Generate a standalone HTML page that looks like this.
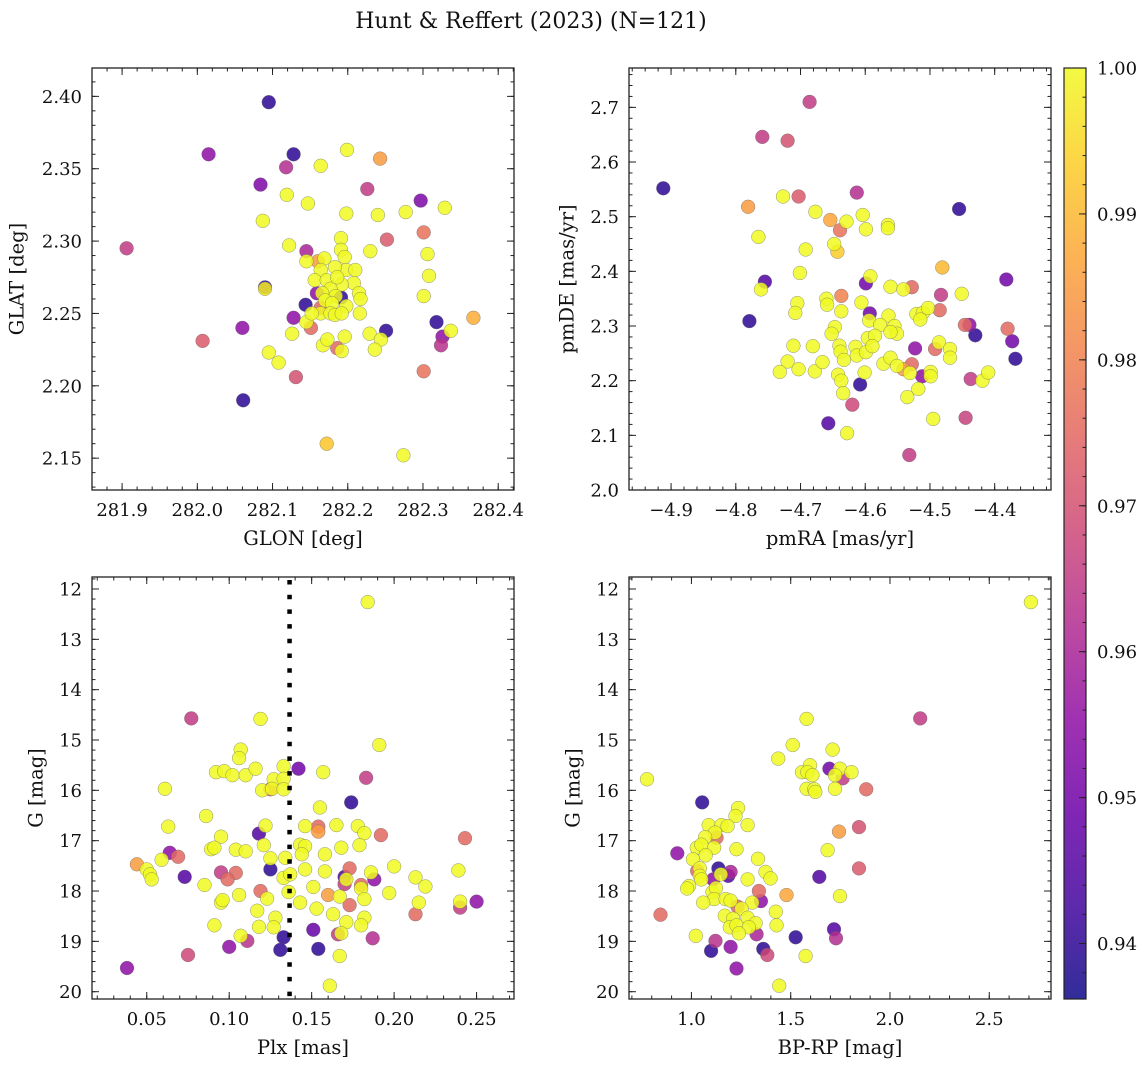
<!DOCTYPE html>
<html><head><meta charset="utf-8">
<style>
html,body{margin:0;padding:0;background:#fff;}
svg{display:block;font-family:"DejaVu Serif","Liberation Serif",serif;}
</style></head>
<body>
<svg id="fig" width="1148" height="1067" viewBox="0 0 1148 1067" xmlns="http://www.w3.org/2000/svg">
<text x="531" y="28" font-size="22" text-anchor="middle" fill="#111">Hunt &amp; Reffert (2023) (N=121)</text>
</svg>
<script>
// ---------- Panel 1: GLON / GLAT ----------
const glon1=[282.095,282.015,282.128,282.118,282.084,282.199,282.164,282.243,282.226,282.119,282.147,282.087,282.198,282.240,282.277,282.297,282.329,282.301,282.252,281.906,282.122,282.191,282.230,282.145,282.306,282.308,282.301,282.090,282.090,282.144,282.128,282.060,282.007,282.251,282.318,282.326,282.324,282.337,282.367,282.126,282.095,282.108,282.131,282.061,282.301,282.172,282.274,
282.229,282.244,282.236,282.167,282.173,282.196,282.186,282.192,282.151,282.145,
282.145,282.160,282.169,282.191,282.196,282.198,282.210,282.208,282.215,282.217,282.216,
282.164,282.156,282.172,282.183,282.192,282.177,282.166,282.159,282.184,282.191,
282.170,282.179,282.198,282.164,282.164,282.152,282.177,282.183,282.192,282.186];
const glat1=[2.396,2.360,2.360,2.351,2.339,2.363,2.352,2.357,2.336,2.332,2.326,2.314,2.319,2.318,2.320,2.328,2.323,2.306,2.301,2.295,2.297,2.302,2.293,2.293,2.291,2.276,2.262,2.268,2.267,2.256,2.247,2.240,2.231,2.238,2.244,2.234,2.228,2.238,2.247,2.236,2.223,2.216,2.206,2.190,2.210,2.160,2.152,
2.236,2.232,2.225,2.228,2.232,2.234,2.226,2.224,2.240,2.244,
2.286,2.286,2.288,2.294,2.289,2.280,2.280,2.271,2.264,2.260,2.250,
2.280,2.273,2.273,2.282,2.270,2.267,2.264,2.264,2.262,2.261,
2.259,2.257,2.255,2.254,2.250,2.250,2.250,2.249,2.250,2.275];
const prob1=[0.94,0.955,0.94,0.962,0.952,1,1,0.985,0.965,1,1,1,1,1,1,0.952,1,0.977,0.972,0.965,1,1,1,0.96,1,1,1,0.94,0.998,0.94,0.955,0.955,0.972,0.94,0.94,0.955,0.963,1,0.988,1,1,1,0.97,0.94,0.977,0.992,1,
1,1,1,1,1,1,0.975,1,0.975,1,
1,0.985,1,1,1,1,1,1,1,1,1,
1,1,1,1,1,1,1,0.955,1,0.94,
1,1,1,0.975,1,1,1,1,1,1];
const xticks1=[281.9,282.0,282.1,282.2,282.3,282.4];
const yticks1=[2.15,2.20,2.25,2.30,2.35,2.40];

// ---------- Panel 2: pmRA / pmDE ----------
const pmra2=[-4.686,-4.759,-4.720,-4.912,-4.727,-4.703,-4.613,-4.781,-4.455,-4.765,
-4.677,-4.654,-4.629,-4.639,-4.604,-4.599,-4.565,-4.565,-4.648,-4.643,
-4.692,-4.701,-4.755,-4.761,-4.779,-4.481,-4.382,-4.599,-4.592,-4.561,
-4.541,-4.528,-4.483,-4.451,-4.637,-4.660,-4.659,-4.705,-4.708,-4.606,
-4.637,-4.593,-4.594,-4.521,-4.511,-4.503,-4.515,-4.485,-4.564,-4.577,
-4.555,-4.551,-4.561,-4.446,-4.439,-4.430,-4.380,-4.373,-4.368,-4.647,
-4.652,-4.711,-4.681,-4.720,-4.732,-4.703,-4.678,-4.666,-4.640,-4.638,
-4.633,-4.642,-4.637,-4.634,-4.615,-4.613,-4.599,-4.596,-4.585,-4.589,
-4.601,-4.608,-4.620,-4.657,-4.628,-4.572,-4.561,-4.551,-4.528,-4.541,
-4.531,-4.512,-4.499,-4.499,-4.523,-4.492,-4.486,-4.469,-4.469,-4.437,
-4.419,-4.410,-4.518,-4.535,-4.495,-4.445,-4.532];
const pmde2=[2.710,2.646,2.639,2.552,2.537,2.537,2.544,2.518,2.514,2.463,
2.509,2.494,2.491,2.475,2.503,2.477,2.485,2.479,2.450,2.436,
2.440,2.397,2.381,2.367,2.309,2.407,2.385,2.378,2.391,2.372,
2.367,2.371,2.357,2.359,2.355,2.350,2.339,2.342,2.324,2.343,
2.327,2.323,2.310,2.322,2.324,2.333,2.312,2.329,2.319,2.302,
2.300,2.286,2.289,2.302,2.302,2.283,2.295,2.272,2.240,2.298,
2.286,2.264,2.263,2.235,2.216,2.221,2.217,2.234,2.264,2.253,
2.238,2.211,2.200,2.177,2.262,2.246,2.252,2.278,2.282,2.263,
2.215,2.193,2.156,2.122,2.104,2.231,2.242,2.227,2.230,2.221,
2.214,2.208,2.216,2.208,2.259,2.258,2.270,2.258,2.242,2.203,
2.200,2.215,2.185,2.170,2.130,2.132,2.064];
const prob2=[0.965,0.965,0.970,0.94,1,0.972,0.962,0.985,0.94,1,
1,0.987,1,0.977,1,1,1,1,1,0.993,
1,1,0.945,1,0.94,0.99,0.95,0.95,1,1,
1,0.975,0.965,1,0.98,1,1,1,1,1,
1,0.95,1,1,1,1,1,0.975,1,1,
1,1,1,0.975,0.955,0.94,0.975,0.95,0.94,1,
1,1,1,1,1,1,1,1,1,1,
1,1,1,1,1,1,1,1,1,1,
1,0.94,0.968,0.945,1,1,1,1,0.975,0.985,
1,0.955,1,1,0.955,0.975,1,1,1,0.965,
1,1,1,1,1,0.967,0.965];
const xticks2=[-4.9,-4.8,-4.7,-4.6,-4.5,-4.4];
const yticks2=[2.0,2.1,2.2,2.3,2.4,2.5,2.6,2.7];

// ---------- Panel 3: Plx / G ----------
const plx3=[0.184,0.077,0.119,0.191,0.107,0.106,0.092,0.097,0.102,0.110,
0.116,0.133,0.127,0.133,0.142,0.157,0.183,0.120,0.125,0.126,
0.133,0.061,0.174,0.155,0.086,0.063,0.122,0.118,0.146,0.154,
0.154,0.165,0.178,0.182,0.192,0.243,0.095,0.089,0.091,0.104,
0.110,0.121,0.143,0.146,0.144,0.158,0.168,0.179,0.064,0.069,
0.059,0.044,0.050,0.052,0.053,0.073,0.095,0.104,0.099,0.125,
0.134,0.125,0.133,0.137,0.146,0.158,0.170,0.173,0.171,0.170,
0.180,0.180,0.188,0.186,0.200,0.213,0.219,0.239,0.240,0.240,
0.250,0.215,0.213,0.085,0.136,0.119,0.106,0.095,0.096,0.123,
0.143,0.151,0.160,0.167,0.173,0.182,0.197,0.153,0.117,0.128,
0.127,0.118,0.091,0.163,0.171,0.182,0.180,0.151,0.166,0.168,
0.107,0.111,0.133,0.187,0.100,0.131,0.154,0.167,0.075,0.038,
0.161];
const gmag3=[12.26,14.57,14.58,15.10,15.19,15.36,15.64,15.62,15.70,15.70,
15.57,15.52,15.78,15.77,15.57,15.64,15.75,16.00,15.98,15.97,
15.98,15.97,16.24,16.34,16.51,16.72,16.70,16.86,16.71,16.72,
16.82,16.69,16.71,16.85,16.89,16.95,16.92,17.17,17.14,17.18,
17.21,17.09,17.08,17.11,17.27,17.27,17.14,17.09,17.24,17.32,
17.38,17.47,17.57,17.67,17.77,17.72,17.63,17.64,17.77,17.35,
17.34,17.57,17.74,17.67,17.57,17.61,17.72,17.55,17.77,17.86,
17.88,17.95,17.77,17.63,17.51,17.73,17.91,17.59,18.21,18.33,
18.21,18.23,18.46,17.88,18.02,18.00,18.08,18.23,18.18,18.15,
18.23,17.92,18.08,18.11,18.28,18.16,18.04,18.35,18.39,18.53,
18.72,18.71,18.68,18.46,18.62,18.53,18.68,18.77,18.86,18.84,
18.89,18.99,18.92,18.94,19.11,19.17,19.15,19.29,19.27,19.53,
19.88];
const prob3=[1,0.965,1,1,1,1,1,1,1,1,
1,1,1,1,0.95,1,0.965,1,0.975,1,
1,1,0.94,1,1,1,1,0.945,1,0.975,
0.985,1,1,1,0.975,0.975,1,1,1,1,
1,1,1,1,1,1,1,1,0.955,0.975,
1,0.985,1,1,1,0.945,0.965,0.975,0.975,1,
1,0.94,1,1,1,1,0.945,0.975,1,0.965,
0.975,1,0.955,1,1,1,1,1,1,0.965,
0.955,1,0.975,1,1,0.975,1,1,1,1,
1,1,0.985,1,0.975,1,1,1,1,1,
1,1,1,1,1,1,1,0.948,0.965,1,
1,0.963,0.94,0.962,0.955,0.94,0.94,1,0.968,0.955,
1];
const plxRef=[0.1366];
const xticks3=[0.05,0.10,0.15,0.20,0.25];
const yticksG=[12,13,14,15,16,17,18,19,20];

// ---------- Panel 4: BP-RP / G ----------
const bprp4=[2.710,2.152,1.580,1.510,1.711,1.437,0.776,1.557,1.597,1.584,
1.609,1.695,1.748,1.762,1.723,1.806,1.580,1.619,1.624,1.723,
1.880,1.054,1.235,1.222,1.283,1.087,1.151,1.182,1.119,1.126,
1.069,1.844,1.743,0.929,1.027,1.050,1.114,1.072,1.227,1.335,
1.686,1.008,1.029,1.042,1.042,1.050,1.136,1.185,1.197,1.148,
1.109,1.373,1.398,1.283,1.644,1.844,0.988,0.978,1.106,1.123,
1.114,1.059,1.340,1.479,1.748,1.172,1.197,1.350,1.306,1.232,
1.252,1.425,0.844,1.168,1.210,1.283,1.323,1.429,1.193,1.227,
1.289,1.239,1.022,1.328,1.525,1.718,1.728,1.121,1.099,1.197,
1.362,1.382,1.575,1.227,1.442];
const gmag4=[12.26,14.57,14.58,15.10,15.19,15.37,15.78,15.64,15.50,15.64,
15.70,15.57,15.57,15.76,15.70,15.64,15.97,15.98,16.03,15.97,
15.98,16.24,16.35,16.51,16.69,16.69,16.69,16.71,16.84,16.94,
16.93,16.73,16.82,17.25,17.14,17.08,17.14,17.29,17.17,17.36,
17.19,17.37,17.60,17.55,17.70,17.77,17.55,17.70,17.62,17.67,
17.77,17.62,17.75,17.77,17.72,17.55,17.90,17.95,18.02,17.94,
18.16,18.23,18.00,18.08,18.10,18.16,18.19,18.20,18.23,18.31,
18.35,18.41,18.47,18.49,18.55,18.53,18.64,18.68,18.72,18.68,
18.72,18.84,18.89,18.86,18.92,18.76,18.94,18.99,19.19,19.11,
19.15,19.27,19.29,19.54,19.88];
const prob4=[1,0.965,1,1,1,1,1,1,1,1,
1,0.95,1,0.965,1,1,1,1,1,1,
0.975,0.94,1,1,1,1,1,1,1,0.975,
1,0.97,0.985,0.955,1,1,1,1,1,1,
1,1,0.975,1,1,1,0.94,0.945,0.96,1,
0.955,1,1,1,0.945,0.972,1,1,1,1,
1,1,0.975,0.987,1,1,1,0.955,1,0.975,
1,1,0.975,1,1,1,1,1,1,1,
1,1,1,0.96,0.94,0.945,0.962,0.963,0.94,0.955,
0.94,0.968,1,0.955,1];
const xticks4=[1.0,1.5,2.0,2.5];
const cbarTicks=[0.94,0.95,0.96,0.97,0.98,0.99,1.00];

// ---------- drawing ----------
const NS='http://www.w3.org/2000/svg';
const svg=document.getElementById('fig');
const PMIN=0.9362,PMAX=1.0;
const TFS=18,LFS=19.5;
const plasma=[[13,8,135],[65,4,157],[106,0,168],[143,13,164],[177,42,144],[204,71,120],[225,100,98],[242,132,75],[252,166,54],[252,206,37],[240,249,33]];
function cmap(p){let t=(p-PMIN)/(PMAX-PMIN);t=Math.max(0,Math.min(1,t));const f=t*10,i=Math.min(9,Math.floor(f)),u=f-i;const a=plasma[i],b=plasma[i+1];
return 'rgb('+[0,1,2].map(k=>Math.round(a[k]+(b[k]-a[k])*u)).join(',')+')';}
function mk(tag,attrs,parent){const e=document.createElementNS(NS,tag);for(const k in attrs)e.setAttribute(k,attrs[k]);(parent||svg).appendChild(e);return e;}
function fmt(v,d){return v.toFixed(d).replace('-','\u2212');}

function panel(cfg){
  const g=mk('g',{});
  
  
  const X=v=>cfg.x0+(v-cfg.xd[0])/(cfg.xd[1]-cfg.xd[0])*(cfg.x1-cfg.x0);
  const Y=cfg.yinv?(v=>cfg.y0+(v-cfg.yd[0])/(cfg.yd[1]-cfg.yd[0])*(cfg.y1-cfg.y0)):(v=>cfg.y1-(v-cfg.yd[0])/(cfg.yd[1]-cfg.yd[0])*(cfg.y1-cfg.y0));
  const idx=cfg.xs.map((_,i)=>i).sort((a,b)=>cfg.ps[a]-cfg.ps[b]);
  const pg=mk('g',{},g);
  
  
  idx.forEach(i=>{
    const c=mk('circle',{cx:X(cfg.xs[i]).toFixed(1),cy:Y(cfg.ys[i]).toFixed(1),r:6.9,fill:cmap(cfg.ps[i]),'fill-opacity':0.85,stroke:'#666','stroke-width':0.5,'stroke-opacity':0.7},pg);
    
    
  });
  if(cfg.vline){cfg.vline.forEach(v=>{const l=mk('line',{x1:X(v),x2:X(v),y1:cfg.y0+3,y2:cfg.y1,stroke:'#000','stroke-width':4.5,'stroke-dasharray':'4.5 10.2'},g);
    
    });}
  const tk=mk('g',{stroke:'#222','stroke-width':1},g);
  function minors(d,step,f){const s=Math.ceil(d[0]/step-1e-6),e=Math.floor(d[1]/step+1e-6);for(let k=s;k<=e;k++)f(k*step);}
  minors(cfg.xd,cfg.xminor,v=>{const x=X(v);mk('line',{x1:x,x2:x,y1:cfg.y1,y2:cfg.y1-3.5},tk);mk('line',{x1:x,x2:x,y1:cfg.y0,y2:cfg.y0+3.5},tk);});
  minors(cfg.yd,cfg.yminor,v=>{const y=Y(v);mk('line',{x1:cfg.x0,x2:cfg.x0+3.5,y1:y,y2:y},tk);mk('line',{x1:cfg.x1,x2:cfg.x1-3.5,y1:y,y2:y},tk);});
  cfg.xt.forEach(v=>{const x=X(v);mk('line',{x1:x,x2:x,y1:cfg.y1,y2:cfg.y1-7},tk);mk('line',{x1:x,x2:x,y1:cfg.y0,y2:cfg.y0+7},tk);
    const t=mk('text',{x:x,y:cfg.y1+26,'font-size':TFS,'text-anchor':'middle',fill:'#111'},g);t.textContent=fmt(v,cfg.xdec);
    });
  cfg.yt.forEach(v=>{const y=Y(v);mk('line',{x1:cfg.x0,x2:cfg.x0+7,y1:y,y2:y},tk);mk('line',{x1:cfg.x1,x2:cfg.x1-7,y1:y,y2:y},tk);
    const t=mk('text',{x:cfg.x0-10,y:y+6.5,'font-size':TFS,'text-anchor':'end',fill:'#111'},g);t.textContent=fmt(v,cfg.ydec);
    });
  const fr=mk('rect',{x:cfg.x0,y:cfg.y0,width:cfg.x1-cfg.x0,height:cfg.y1-cfg.y0,fill:'none',stroke:'#222','stroke-width':1.3},g);
  
  const xl=mk('text',{x:(cfg.x0+cfg.x1)/2,y:cfg.y1+55,'font-size':LFS,'text-anchor':'middle',fill:'#111'},g);xl.textContent=cfg.xlabel;
  
  const yc=(cfg.y0+cfg.y1)/2;
  const yl=mk('text',{x:cfg.ylx,y:yc,'font-size':LFS,'text-anchor':'middle',fill:'#111',transform:'rotate(-90 '+cfg.ylx+' '+yc+')',dy:6.5},g);yl.textContent=cfg.ylabel;
  
}

panel({name:'glon-glat-panel',x0:92,x1:514,y0:68,y1:490,xd:[281.86,282.421],yd:[2.128,2.4196],xs:glon1,ys:glat1,ps:prob1,xt:xticks1,yt:yticks1,xdec:1,ydec:2,xminor:0.02,yminor:0.01,xlabel:'GLON [deg]',ylabel:'GLAT [deg]',ylx:17});
panel({name:'proper-motion-panel',x0:629,x1:1051,y0:68,y1:490,xd:[-4.965,-4.313],yd:[2.0,2.772],xs:pmra2,ys:pmde2,ps:prob2,xt:xticks2,yt:yticks2,xdec:1,ydec:1,xminor:0.02,yminor:0.02,xlabel:'pmRA [mas/yr]',ylabel:'pmDE [mas/yr]',ylx:567});
panel({name:'parallax-magnitude-panel',x0:92,x1:514,y0:577,y1:999,xd:[0.0168,0.2727],yd:[11.762,20.145],yinv:true,xs:plx3,ys:gmag3,ps:prob3,xt:xticks3,yt:yticksG,xdec:2,ydec:0,xminor:0.01,yminor:0.2,xlabel:'Plx [mas]',ylabel:'G [mag]',ylx:36,vline:plxRef});
panel({name:'color-magnitude-panel',x0:629,x1:1051,y0:577,y1:999,xd:[0.6855,2.811],yd:[11.762,20.145],yinv:true,xs:bprp4,ys:gmag4,ps:prob4,xt:xticks4,yt:yticksG,xdec:1,ydec:0,xminor:0.1,yminor:0.2,xlabel:'BP-RP [mag]',ylabel:'G [mag]',ylx:573});

// colorbar
(function(){
  const cx0=1064,cx1=1086,cy0=68,cy1=999;
  const g=mk('g',{});
  
  
  const defs=mk('defs',{},g);
  const lg=mk('linearGradient',{id:'cbg',x1:0,y1:1,x2:0,y2:0},defs);
  for(let k=0;k<=10;k++){mk('stop',{offset:(k/10),'stop-color':'rgb('+plasma[k].join(',')+')','stop-opacity':0.85},lg);}
  const r=mk('rect',{x:cx0,y:cy0,width:cx1-cx0,height:cy1-cy0,fill:'url(#cbg)',stroke:'#222','stroke-width':1.2},g);
  
  const Y=v=>cy1-(v-PMIN)/(PMAX-PMIN)*(cy1-cy0);
  for(let k=Math.ceil(PMIN/0.002);k<=500;k++){const y=Y(k*0.002);mk('line',{x1:cx1,x2:cx1-3.5,y1:y,y2:y,stroke:'#222','stroke-width':1},g);}
  cbarTicks.forEach(v=>{const y=Y(v);mk('line',{x1:cx1,x2:cx1-7,y1:y,y2:y,stroke:'#222','stroke-width':1},g);
    const t=mk('text',{x:cx1+11,y:y+6.5,'font-size':TFS,fill:'#111'},g);t.textContent=v.toFixed(2);
    });
})();
</script>
</body></html>
